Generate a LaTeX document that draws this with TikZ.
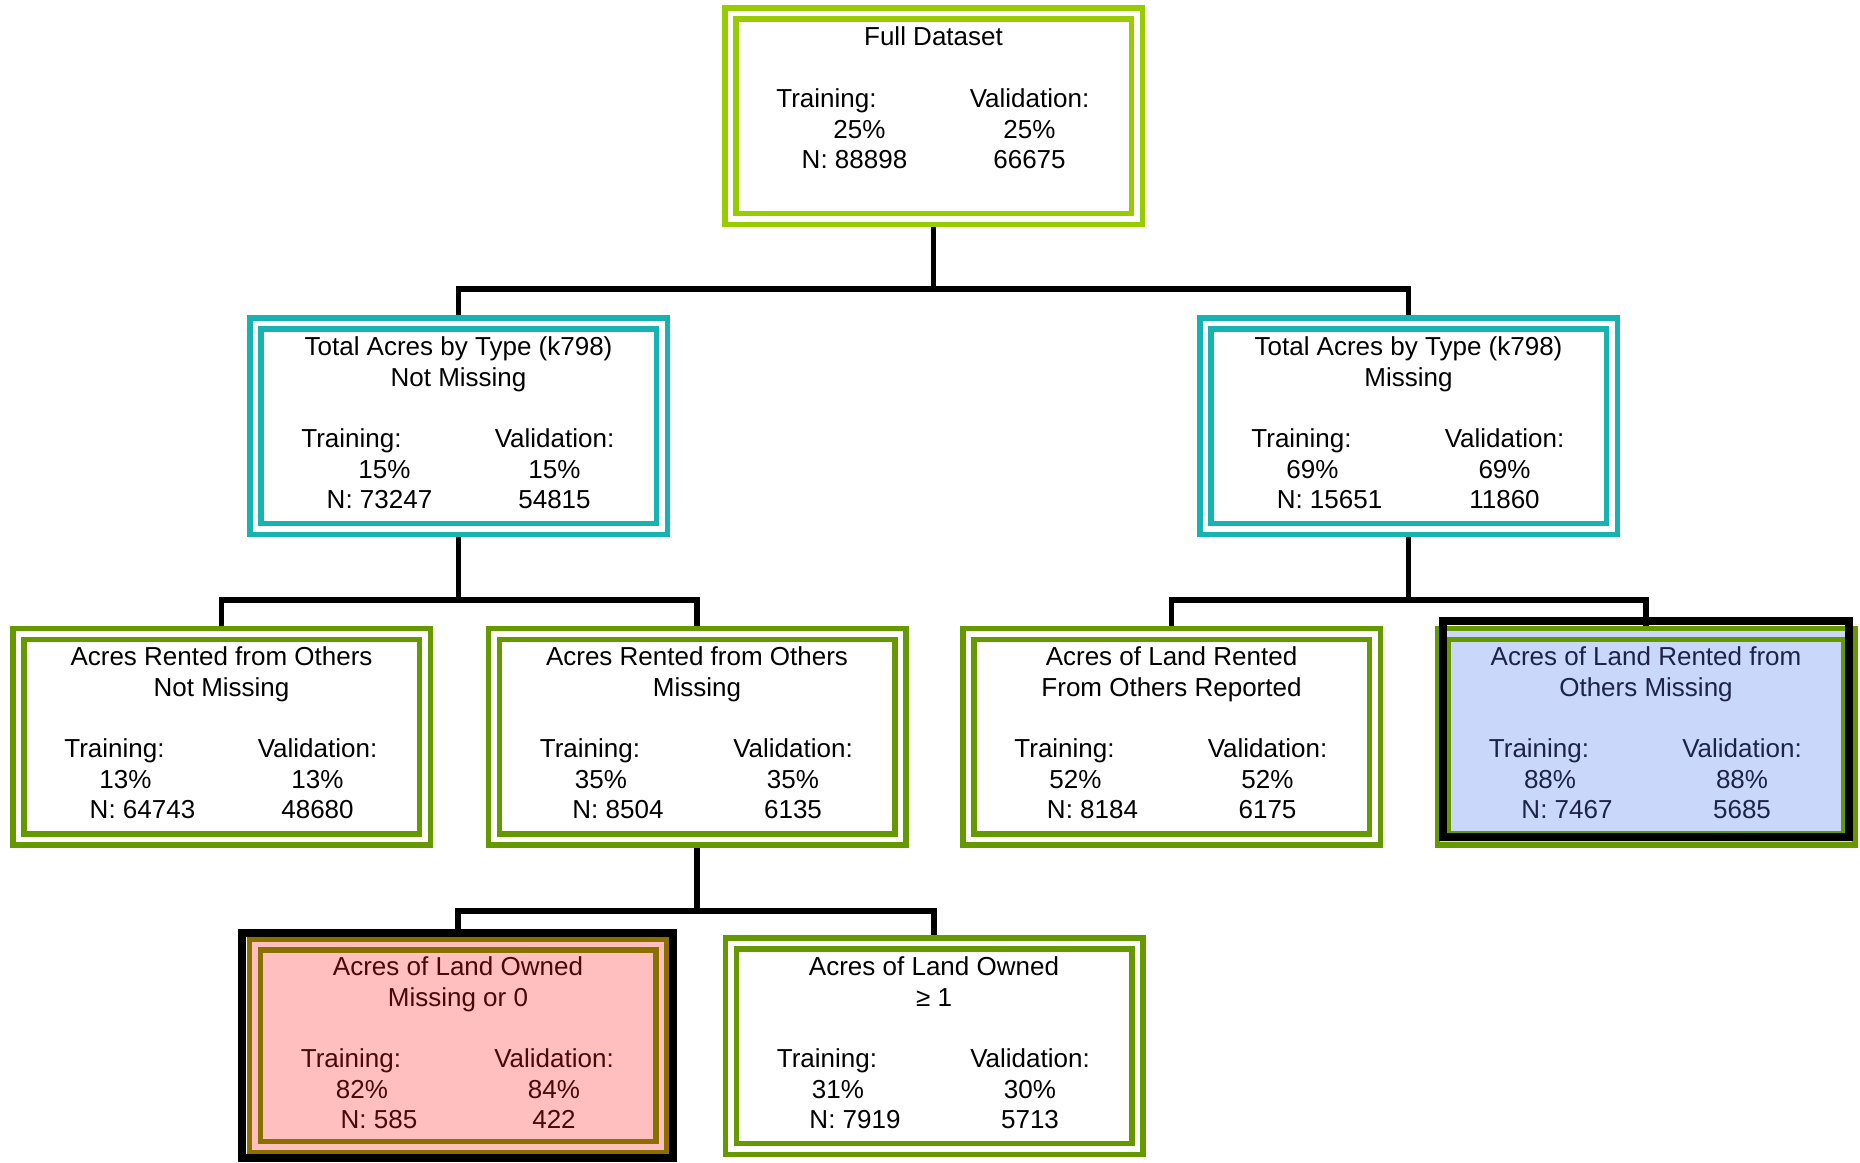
\documentclass[tikz,border=0pt]{standalone}
\usepackage{fontspec}
\setmainfont{Liberation Sans}
\usetikzlibrary{calc}

\definecolor{limegreen}{HTML}{99CC00}
\definecolor{tealframe}{HTML}{17B3B0}
\definecolor{leafgreen}{HTML}{669900}
\definecolor{ownedolive}{HTML}{8A7000}
\definecolor{rosefill}{HTML}{FFBFBF}
\definecolor{maroontext}{HTML}{4A0808}
\definecolor{skyfill}{HTML}{C9D7FA}
\definecolor{navytext}{HTML}{1B2347}

\pgfdeclarelayer{bg}
\pgfsetlayers{bg,main}

\tikzset{
  frame/.style={draw=#1, double=white, line width=5.5pt, double distance=5.5pt,
    fill=white, minimum width=406.5pt, minimum height=205.5pt,
    inner sep=0pt, outer sep=0pt},
  txt/.style={anchor=base, inner sep=0pt, outer sep=0pt,
    font=\fontsize{26}{31}\selectfont},
  link/.style={draw=black, line width=5.5pt, line join=miter},
  selmark/.style={draw=black, line width=8pt},
}

% Training / validation figures of one split box
% #1 box, #2 drop of the label line below the north anchor, #3 x offset of the training share
% #4 training share, #5 training count, #6 validation share, #7 validation count
\newcommand\splitstats[7]{%
  \node[txt] (#1-trlab) at ([shift={(-107,#2)}]#1.north) {Training:};
  \node[txt] (#1-trpct) at ([shift={(#3,#2+31)}]#1.north) {#4};
  \node[txt] (#1-trn)   at ([shift={(-79,#2+61)}]#1.north) {N: #5};
  \node[txt] (#1-vlab)  at ([shift={(96,#2)}]#1.north) {Validation:};
  \node[txt] (#1-vpct)  at ([shift={(96,#2+31)}]#1.north) {#6};
  \node[txt] (#1-vn)    at ([shift={(96,#2+61)}]#1.north) {#7};
}

\begin{document}
\begin{tikzpicture}[x=1pt, y=-1pt]
  \useasboundingbox (0,0) rectangle (1860,1162);

  % ---- root ----
  \node[frame=limegreen] (full) at (933.5,116) {};
  \node[txt] (full-t1) at ([shift={(0,31.75)}]full.north) {Full Dataset};
  \splitstats{full}{93.75}{-74}{25\%}{88898}{25\%}{66675}

  % ---- first split ----
  \node[frame=tealframe] (tl) at (458.5,426) {};
  \node[txt] (tl-t1) at ([shift={(0,31.75)}]tl.north) {Total Acres by Type (k798)};
  \node[txt] (tl-t2) at ([shift={(0,62.75)}]tl.north) {Not Missing};
  \splitstats{tl}{123.75}{-74}{15\%}{73247}{15\%}{54815}

  \node[frame=tealframe] (tr) at (1408.5,426) {};
  \node[txt] (tr-t1) at ([shift={(0,31.75)}]tr.north) {Total Acres by Type (k798)};
  \node[txt] (tr-t2) at ([shift={(0,62.75)}]tr.north) {Missing};
  \splitstats{tr}{123.75}{-96}{69\%}{15651}{69\%}{11860}

  % ---- second split ----
  \node[frame=leafgreen] (boxA) at (221.5,736.5) {};
  \node[txt] (boxA-t1) at ([shift={(0,31.75)}]boxA.north) {Acres Rented from Others};
  \node[txt] (boxA-t2) at ([shift={(0,62.75)}]boxA.north) {Not Missing};
  \splitstats{boxA}{123.75}{-96}{13\%}{64743}{13\%}{48680}

  \node[frame=leafgreen] (boxB) at (697,736.5) {};
  \node[txt] (boxB-t1) at ([shift={(0,31.75)}]boxB.north) {Acres Rented from Others};
  \node[txt] (boxB-t2) at ([shift={(0,62.75)}]boxB.north) {Missing};
  \splitstats{boxB}{123.75}{-96}{35\%}{8504}{35\%}{6135}

  \node[frame=leafgreen] (boxC) at (1171.5,736.5) {};
  \node[txt] (boxC-t1) at ([shift={(0,31.75)}]boxC.north) {Acres of Land Rented};
  \node[txt] (boxC-t2) at ([shift={(0,62.75)}]boxC.north) {From Others Reported};
  \splitstats{boxC}{123.75}{-96}{52\%}{8184}{52\%}{6175}

  \node[frame=leafgreen, fill=skyfill, double=skyfill] (boxD) at (1646,736.5) {};
  \draw[selmark] ([shift={(0,-13)}]boxD.north west) rectangle ([shift={(0,-2)}]boxD.south east);
  \begin{scope}[txt/.append style={text=navytext}]
    \node[txt] (boxD-t1) at ([shift={(0,31.75)}]boxD.north) {Acres of Land Rented from};
    \node[txt] (boxD-t2) at ([shift={(0,62.75)}]boxD.north) {Others Missing};
    \splitstats{boxD}{123.75}{-96}{88\%}{7467}{88\%}{5685}
  \end{scope}

  % ---- third split ----
  \node[frame=ownedolive, fill=rosefill, double=rosefill, minimum height=202.5pt] (owned0) at (458,1045.5) {};
  \draw[selmark] ([shift={(-12.5,-11.5)}]owned0.north west) rectangle ([shift={(11.5,11.5)}]owned0.south east);
  \begin{scope}[txt/.append style={text=maroontext}]
    \node[txt] (owned0-t1) at ([shift={(0,30.75)}]owned0.north) {Acres of Land Owned};
    \node[txt] (owned0-t2) at ([shift={(0,61.75)}]owned0.north) {Missing or 0};
    \splitstats{owned0}{122.75}{-96}{82\%}{585}{84\%}{422}
  \end{scope}

  \node[frame=leafgreen] (owned1) at (934,1046) {};
  \node[txt] (owned1-t1) at ([shift={(0,31.75)}]owned1.north) {Acres of Land Owned};
  \node[txt] (owned1-t2) at ([shift={(0,62.75)}]owned1.north) {≥ 1};
  \splitstats{owned1}{123.75}{-96}{31\%}{7919}{30\%}{5713}

  % ---- connectors, behind the boxes ----
  \coordinate (j1) at (933.5,289);
  \coordinate (j2) at (458.5,600);
  \coordinate (j3) at (1408.5,600);
  \coordinate (j4) at (697,911);
  \begin{pgfonlayer}{bg}
    \fill[white] (0,0) rectangle (1860,1162);
    \draw[link] (full.center) -- (j1);
    \draw[link] (tl.center) |- (j1) -| (tr.center);
    \draw[link] (tl.center) -- (j2);
    \draw[link] (boxA.center) |- (j2) -| (boxB.center);
    \draw[link] (tr.center) -- (j3);
    \draw[link] (boxC.center) |- (j3) -| (boxD.center);
    \draw[link] (boxB.center) -- (j4);
    \draw[link] (owned0.center) |- (j4) -| (owned1.center);
  \end{pgfonlayer}
\end{tikzpicture}
\end{document}
